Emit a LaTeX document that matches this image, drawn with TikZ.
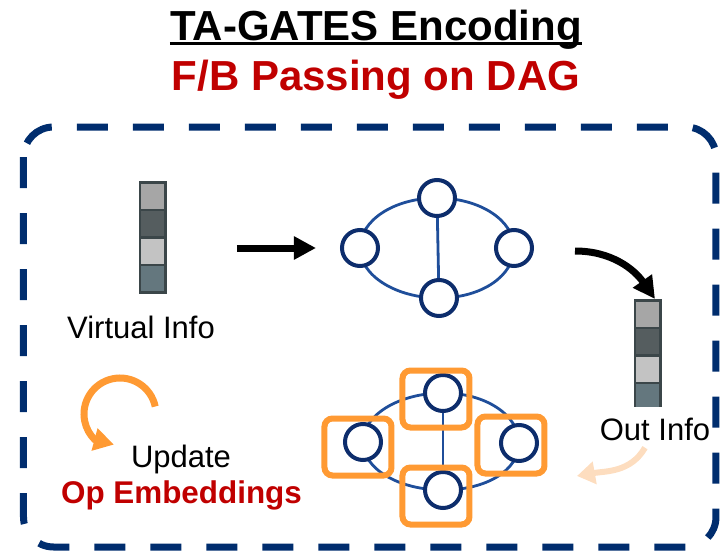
\documentclass[tikz,border=0pt]{standalone}
\usepackage{fontspec}
\setmainfont{Liberation Sans}
\usetikzlibrary{arrows.meta,positioning,calc,backgrounds}
\definecolor{navy}{HTML}{002D6E}
\definecolor{nodeblue}{HTML}{0D2D6C}
\definecolor{edgeblue}{HTML}{1F4E9A}
\definecolor{opor}{HTML}{FF9A33}
\definecolor{fbred}{HTML}{C00000}
\definecolor{peach}{HTML}{FDDDBF}
\definecolor{cellline}{HTML}{3B4649}
\definecolor{cellA}{HTML}{A6A6A6}
\definecolor{cellB}{HTML}{555D5F}
\definecolor{cellC}{HTML}{C3C3C3}
\definecolor{cellD}{HTML}{64777E}
\tikzset{
  cell/.style={rectangle, draw=cellline, line width=1.25pt, minimum width=12.75pt, minimum height=13.75pt, inner sep=0pt},
  opnode/.style={circle, draw=nodeblue, line width=2pt, fill=white, minimum size=18pt, inner sep=0pt},
  opbox/.style={rectangle, draw=opor, line width=3pt, rounded corners=4pt, minimum width=33.5pt, minimum height=28.5pt},
  dagedge/.style={edgeblue, line width=1.4pt},
  lbl/.style={font=\fontsize{15.5}{18}\selectfont, inner sep=0pt, anchor=base}
}

\begin{document}
\begin{tikzpicture}[
    x=0.5pt, y=-0.5pt,
    barr/.style={-{Triangle[length=11pt, width=11pt]}, line width=3.5pt, black},
    oarr/.style={-{Triangle[length=10pt, width=11pt]}, line width=3.5pt, opor},
    parr/.style={-{Triangle[length=9pt, width=11pt]}, line width=3pt, peach},
    dashborder/.style={draw=navy, line width=3.5pt, dash pattern=on 15.5pt off 12.5pt, rounded corners=15pt}
  ]
    \useasboundingbox (0,0) rectangle (720,552);

    \node[font=\bfseries\fontsize{21}{25}\selectfont, inner sep=0pt, anchor=base] (title) at (376,40) {TA-GATES Encoding};
    \draw[line width=1.25pt] ([yshift=-1.8pt]title.base west) -- ([yshift=-1.8pt]title.base east);
    \node[font=\bfseries\fontsize{21}{25}\selectfont, text=fbred, inner sep=0pt, anchor=base] (sub) at (376,90) {F/B Passing on DAG};

    \foreach \c [count=\i from 0] in {cellA,cellB,cellC,cellD}
      \node[cell, fill=\c] (v\i) at (153, {196+27.5*\i}) {};
    \node[lbl] (vinfo) at (141,338) {Virtual Info};

    \node[opnode] (t1) at (437,198) {};
    \node[opnode] (l1) at (360,248) {};
    \node[opnode] (r1) at (514,248) {};
    \node[opnode] (b1) at (439,298) {};

    \coordinate (a1s) at (237,248);
    \draw[barr, shorten >=12pt] (a1s) -- (l1);

    \foreach \c [count=\i from 0] in {cellA,cellB,cellC,cellD}
      \node[cell, fill=\c] (ov\i) at (648, {314+27.5*\i}) {};
    \node[lbl, fill=white, inner xsep=0pt, inner ysep=5.5pt] (oinfo) at (655,440) {Out Info};

    \coordinate (a2s) at (575,251);
    \draw[barr] (a2s) to[out=0, in=125] ([xshift=3.5pt]ov0.north);

    \node[opnode] (t2) at (443,393) {};
    \node[opnode] (l2) at (363,442) {};
    \node[opnode] (r2) at (519,443) {};
    \node[opnode] (b2) at (443,490) {};
    \node[opbox] (bt) at ($(t2)+(-7,6)$) {};
    \node[opbox] (bl) at ($(l2)+(-5,5)$) {};
    \node[opbox] (br) at ($(r2)+(-8,2)$) {};
    \node[opbox] (bb) at ($(b2)+(-7,6)$) {};

    \begin{pgfonlayer}{background}
      \foreach \g in {1,2} {
        \draw[dagedge] (t\g.center) .. controls +(-43,0) and +(0,-27.5) .. (l\g.center);
        \draw[dagedge] (l\g.center) .. controls +(0,27.5) and +(-43,0) .. (b\g.center);
        \draw[dagedge] (b\g.center) .. controls +(43,0) and +(0,27.5) .. (r\g.center);
        \draw[dagedge] (r\g.center) .. controls +(0,-27.5) and +(43,0) .. (t\g.center);
        \draw[dagedge] (t\g) -- (b\g);
      }
    \end{pgfonlayer}

    \coordinate (pe) at (577,476);
    \draw[parr] ([xshift=-5pt, yshift=2pt]oinfo.south) to[out=-120, in=10] (pe);

    \coordinate (upd) at (120,414);
    \draw[oarr] ([shift={(12:18pt)}]upd) arc[start angle=12, end angle=225, radius=18pt] -- ++(-15:10pt);
    \node[lbl] (update) at (181,467) {Update};
    \node[lbl, font=\bfseries\fontsize{15.7}{18}\selectfont, text=fbred] (opemb) at (181.5,503) {Op Embeddings};

    \draw[dashborder] (23.5,127) rectangle (716,547);
  \end{tikzpicture}
\end{document}
